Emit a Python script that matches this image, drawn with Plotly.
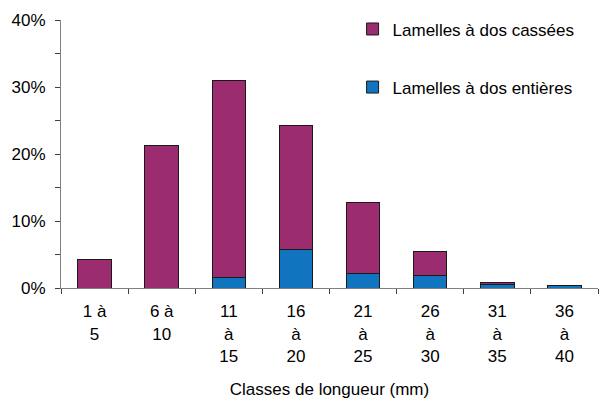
import plotly.graph_objects as go

# classes de longueur (mm)
categories = ["1 à<br>5", "6 à<br>10", "11<br>à<br>15", "16<br>à<br>20",
              "21<br>à<br>25", "26<br>à<br>30", "31<br>à<br>35", "36<br>à<br>40"]

# pourcentages
entieres = [0.0, 0.0, 0.015, 0.057, 0.022, 0.018, 0.0055, 0.0035]
cassees = [0.043, 0.213, 0.295, 0.186, 0.105, 0.036, 0.003, 0.0]

y_ticks = [0, 0.1, 0.2, 0.3, 0.4]

fig = go.Figure()

fig.add_trace(go.Bar(
    x=categories,
    y=entieres,
    name="Lamelles à dos entières",
    marker=dict(color="#1075BE", line=dict(color="#1a1a1a", width=1)),
    legendgroup="b",
    legendrank=2
))

fig.add_trace(go.Bar(
    x=categories,
    y=cassees,
    name="Lamelles à dos cassées",
    marker=dict(color="#9B2C70", line=dict(color="#1a1a1a", width=1)),
    legendgroup="a",
    legendrank=1
))

fig.update_layout(
    barmode="stack",
    bargap=0.5,
    width=600,
    height=401,
    template="plotly_white",
    plot_bgcolor="white",
    paper_bgcolor="white",
    font=dict(family="Liberation Sans, Arial", size=17, color="#000"),
    margin=dict(l=61, r=2, t=20, b=113),
    showlegend=True,
    legend=dict(
        x=0.543,
        y=1.032,
        xanchor="left",
        yanchor="top",
        traceorder="grouped",
        tracegroupgap=33,
        font=dict(size=17),
        bgcolor="rgba(0,0,0,0)",
        itemwidth=30
    )
)

fig.update_xaxes(
    showgrid=False,
    showline=True,
    linecolor="#808080",
    linewidth=1,
    ticks="outside",
    tickson="boundaries",
    ticklen=5,
    tickcolor="#404040",
    tickfont=dict(size=17),
    ticklabelstandoff=8,
    title=dict(text="Classes de longueur (mm)", font=dict(size=17), standoff=18),
    zeroline=False,
    automargin=False
)

fig.update_yaxes(
    range=[0, 0.4],
    tickvals=y_ticks,
    tickformat=".0%",
    showgrid=False,
    showline=True,
    linecolor="#808080",
    linewidth=1,
    ticks="outside",
    ticklen=5,
    tickcolor="#404040",
    tickfont=dict(size=17),
    ticklabelstandoff=6,
    minor=dict(dtick=0.05, ticks="outside", ticklen=5, tickcolor="#404040"),
    zeroline=False,
    automargin=False
)

fig.write_html("out.html", config={"displayModeBar": False},
               post_script="document.body.style.margin='0';")
